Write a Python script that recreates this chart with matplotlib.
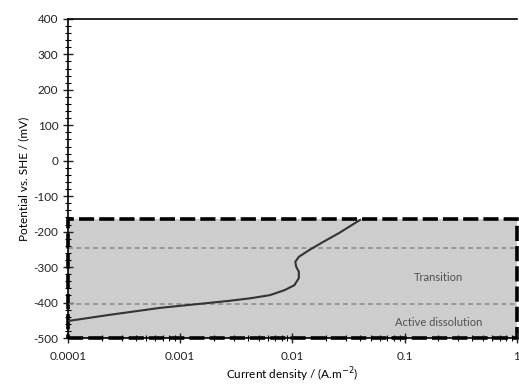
import matplotlib
matplotlib.use("Agg")
import matplotlib.pyplot as plt
from matplotlib.ticker import FixedLocator, FuncFormatter, LogLocator, NullFormatter, MultipleLocator
from matplotlib.patches import Rectangle

plt.rcParams['font.family'] = ['Lato', 'DejaVu Sans']
plt.rcParams['axes.unicode_minus'] = False

# polarisation curve
current = [1.0e-4, 2.3e-4, 6.6e-4, 1.8e-3, 2.75e-3, 4.2e-3, 6.3e-3, 8.5e-3,
           1.04e-2, 1.14e-2, 1.14e-2, 1.08e-2, 1.06e-2, 1.14e-2, 1.41e-2,
           1.9e-2, 2.6e-2, 4.0e-2]
potential = [-452, -435, -415, -401, -395, -388, -379, -365,
             -351, -331, -313, -299, -285, -271, -252,
             -228, -204, -167]

region_top = -165
region_bottom = -500
boundaries = [-245, -405]
labels = ["Transition", "Active dissolution"]
label_y = [-330, -455]
xticks = [0.0001, 0.001, 0.01, 0.1, 1]

fig = plt.figure(figsize=(5.19, 3.85), dpi=100)
ax = fig.add_axes([0.131, 0.122, 0.865, 0.829])

ax.set_xscale('log')
ax.set_xlim(1e-4, 1)
ax.set_ylim(-500, 400)

# shaded region with thick dashed border
rect = Rectangle((1e-4, region_bottom), 1 - 1e-4, region_top - region_bottom,
                 facecolor='#cdcdcd', edgecolor='black', linewidth=2.6,
                 linestyle=(0, (4.2, 1.4)), zorder=1, clip_on=False)
ax.add_patch(rect)

for b in boundaries:
    ax.axhline(b, color='#8f8f8f', linewidth=1.2, linestyle=(0, (3, 2)), zorder=2)

ax.plot(current, potential, color='#333333', linewidth=1.5, zorder=3)

ax.text(0.2, label_y[0], labels[0], ha='center', va='center', fontsize=8, color='#505050')
ax.text(0.2, label_y[1], labels[1], ha='center', va='center', fontsize=8, color='#505050')

ax.yaxis.set_major_locator(MultipleLocator(100))
ax.yaxis.set_minor_locator(MultipleLocator(20))
ax.xaxis.set_major_locator(FixedLocator(xticks))
ax.xaxis.set_minor_locator(LogLocator(base=10, subs=range(2, 10)))
ax.xaxis.set_minor_formatter(NullFormatter())
ax.xaxis.set_major_formatter(FuncFormatter(lambda v, p: ('%g' % v) if v < 1 else '1'))

ax.tick_params(axis='both', which='major', direction='inout', length=7, width=1,
               labelsize=8.5, colors='#222222')
ax.tick_params(axis='both', which='minor', direction='inout', length=4, width=0.8)
ax.tick_params(axis='x', pad=6)

for s in ['left', 'bottom', 'top']:
    ax.spines[s].set_linewidth(1.2)
ax.spines['right'].set_visible(False)

ax.set_ylabel("Potential vs. SHE / (mV)", fontsize=8.5, labelpad=3)
ax.set_xlabel("Current density / (A.m$^{-2}$)", fontsize=8.5, labelpad=2)

fig.savefig("out.png", dpi=100)
